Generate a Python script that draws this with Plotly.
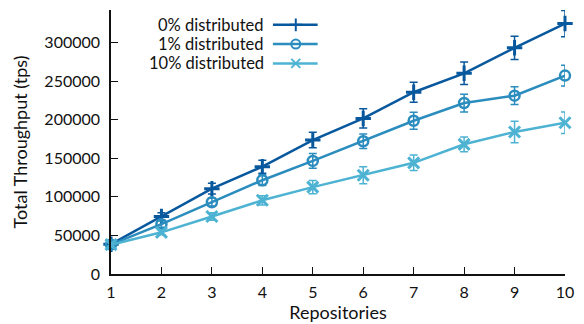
import plotly.graph_objects as go

# Throughput measurements (transactions per second) per number of repositories
repositories = [1, 2, 3, 4, 5, 6, 7, 8, 9, 10]

tput_0pct = [38500, 74500, 110500, 139000, 173500, 201500, 235500, 260000, 293000, 324500]
err_0pct = [3000, 5000, 7000, 8500, 10000, 12500, 13000, 14500, 15000, 17000]

tput_1pct = [38000, 64500, 93000, 121500, 146500, 172000, 198500, 221500, 231000, 257000]
err_1pct = [3000, 4000, 5000, 7000, 9500, 9500, 11000, 11500, 11500, 13500]

tput_10pct = [38000, 54000, 74500, 95500, 112500, 128000, 144000, 168000, 184000, 196000]
err_10pct = [3000, 3000, 5000, 6000, 8500, 11000, 10000, 9500, 14000, 14000]

series_names = ["0% distributed", "1% distributed", "10% distributed"]
y_ticks = [0, 50000, 100000, 150000, 200000, 250000, 300000]
y_tick_labels = [str(v) for v in y_ticks]

colors = ["#08589e", "#2b8cbe", "#4eb3d3"]
symbols = ["cross-thin", "circle-open", "x-thin"]
sizes = [11, 10, 11]
mlw = [3, 2.5, 3]

FONT = "Lato"
INK = "#111111"

fig = go.Figure()

for name, ys, es, c, s, sz, lw in zip(
    series_names,
    [tput_0pct, tput_1pct, tput_10pct],
    [err_0pct, err_1pct, err_10pct],
    colors, symbols, sizes, mlw,
):
    fig.add_trace(go.Scatter(
        x=repositories, y=ys, name=name, mode="lines+markers",
        line=dict(color=c, width=2.5),
        marker=dict(symbol=s, size=sz, color=c, line=dict(color=c, width=lw)),
        error_y=dict(type="data", array=es, visible=True, color=c,
                     thickness=1.5, width=4),
        cliponaxis=False, showlegend=False,
    ))

# Key in the upper left: label text followed by a line sample with its marker.
# Drawn on a hidden pixel-scaled axis pair spanning the plot area.
PL, PR, PT, PB = 111, 568, 10, 277
key_rows = [25, 44.5, 64]
for name, c, s, yk in zip(series_names, colors, symbols, key_rows):
    fig.add_trace(go.Scatter(
        x=[274, 319], y=[yk, yk], mode="lines",
        line=dict(color=c, width=2.5), xaxis="x2", yaxis="y2",
        showlegend=False, hoverinfo="skip", cliponaxis=False,
    ))
    fig.add_trace(go.Scatter(
        x=[297], y=[yk], mode="markers",
        marker=dict(symbol=s, size=9, color=c, line=dict(color=c, width=2)),
        xaxis="x2", yaxis="y2", showlegend=False, hoverinfo="skip",
        cliponaxis=False,
    ))
    fig.add_annotation(
        x=266, y=yk, xref="x2", yref="y2", text=name, showarrow=False,
        xanchor="right", yanchor="middle", borderpad=0,
        font=dict(family=FONT, size=16.5, color=INK),
    )

fig.update_layout(
    width=584, height=324,
    margin=dict(l=PL, r=584 - PR, t=PT, b=324 - PB),
    plot_bgcolor="white", paper_bgcolor="white",
    font=dict(family=FONT, size=16, color=INK),
    xaxis=dict(
        range=[1, 10], tickvals=repositories, ticks="inside", ticklen=7,
        tickcolor=INK, tickwidth=1.2, showgrid=False, zeroline=False,
        showline=True, linecolor=INK, linewidth=1.5,
        title=dict(text="Repositories", standoff=0,
                   font=dict(family=FONT, size=18, color=INK)),
        tickfont=dict(family=FONT, size=16, color=INK), ticklabelstandoff=3,
    ),
    yaxis=dict(
        range=[0, 342000], tickvals=y_ticks, ticktext=y_tick_labels,
        ticks="inside", ticklen=7,
        tickcolor=INK, tickwidth=1.2, showgrid=False, zeroline=False,
        showline=True, linecolor=INK, linewidth=1.5,
        title=dict(text="Total Throughput (tps)", standoff=12,
                   font=dict(family=FONT, size=18, color=INK)),
        tickfont=dict(family=FONT, size=16, color=INK), ticklabelstandoff=6,
    ),
    xaxis2=dict(domain=[0, 1], range=[PL, PR], visible=False,
                anchor="y2", overlaying="x"),
    yaxis2=dict(domain=[0, 1], range=[PB, PT], visible=False,
                anchor="x2", overlaying="y"),
)

fig.write_html("out.html")
